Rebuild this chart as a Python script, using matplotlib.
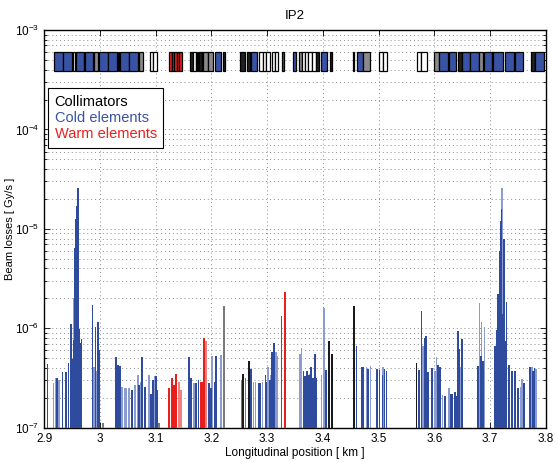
import matplotlib
matplotlib.use("Agg")
import matplotlib.pyplot as plt
from matplotlib.lines import Line2D
from matplotlib.ticker import LogLocator, FixedLocator, NullLocator

plt.rcParams['font.family'] = ['Liberation Sans', 'DejaVu Sans']

# loss bars: position [km], losses [Gy/s]
cold_dark_x = [2.906, 2.923, 2.933, 2.939, 2.944, 2.948, 2.951, 2.954, 2.955, 2.957, 2.9585, 2.9605,
               2.962, 2.963, 2.965, 2.967, 2.987, 2.992, 2.997, 2.999, 3.029, 3.0315, 3.033, 3.036,
               3.058, 3.0703, 3.0762, 3.081, 3.092, 3.096, 3.101, 3.103, 3.1595, 3.163, 3.172, 3.1773,
               3.196, 3.199, 3.2066, 3.208, 3.271, 3.285, 3.2885, 3.2975, 3.299, 3.305, 3.3093, 3.313,
               3.3656, 3.3685, 3.372, 3.375, 3.3792, 3.3823, 3.386, 3.389, 3.406, 3.4606, 3.470, 3.4725,
               3.481, 3.4976, 3.502, 3.5073, 3.511, 3.5144, 3.573, 3.5772, 3.5826, 3.585, 3.589, 3.596,
               3.6064, 3.610, 3.6195, 3.6297, 3.633, 3.637, 3.6393, 3.6424, 3.6454, 3.650, 3.6786, 3.6834,
               3.6876, 3.7086, 3.7116, 3.7145, 3.7175, 3.719, 3.7205, 3.7235, 3.7255, 3.7265, 3.7295, 3.734,
               3.7395, 3.745, 3.7503, 3.7606, 3.7713, 3.7772, 3.780]
cold_dark_y = [4.4e-7, 3.2e-7, 3.6e-7, 3.6e-7, 4.5e-7, 1.1e-6, 4.9e-7, 7.7e-7, 6.5e-6, 1.25e-5, 1.7e-5, 2.6e-5,
               4.3e-6, 9.9e-7, 7.1e-7, 7.8e-7, 1.72e-6, 1.04e-6, 1.16e-6, 6.1e-7, 5.2e-7, 3.6e-7, 4.3e-7, 4.2e-7,
               2.4e-7, 2.7e-7, 5.1e-7, 2.6e-7, 2.2e-7, 3.0e-7, 3.3e-7, 2.4e-7, 5.2e-7, 3.2e-7, 2.8e-7, 3.0e-7,
               2.8e-7, 2.5e-7, 2.9e-7, 5.3e-7, 3.9e-7, 2.8e-7, 2.8e-7, 3.4e-7, 2.9e-7, 3.0e-7, 5.8e-7, 7.1e-7,
               3.7e-7, 3.3e-7, 3.7e-7, 3.4e-7, 4.1e-7, 3.2e-7, 5.5e-7, 3.2e-7, 3.8e-7, 6.7e-7, 4.1e-7, 4.1e-7,
               3.9e-7, 3.9e-7, 3.8e-7, 3.4e-7, 3.9e-7, 3.7e-7, 3.8e-7, 1.5e-6, 8.0e-7, 8.4e-7, 3.6e-7, 4.0e-7,
               4.3e-7, 4.1e-7, 2.1e-7, 2.2e-7, 2.2e-7, 2.3e-7, 2.1e-7, 9.4e-7, 6.2e-7, 7.8e-7, 4.2e-7, 5.3e-7,
               4.7e-7, 6.6e-7, 9.6e-7, 2.2e-6, 6.0e-6, 1.2e-5, 1.6e-5, 1.4e-6, 8.0e-6, 7.4e-7, 1.86e-6, 4.3e-7,
               3.7e-7, 3.7e-7, 2.5e-7, 2.8e-7, 4.1e-7, 3.7e-7, 4.0e-7]

cold_light_x = [2.917, 2.921, 2.927, 2.9525, 2.9897, 2.9945, 3.040, 3.044, 3.047, 3.052, 3.0626, 3.068,
                3.0734, 3.0877, 3.099, 3.169, 3.2017, 3.2173, 3.276, 3.2795, 3.292, 3.302, 3.307, 3.316,
                3.319, 3.3596, 3.362, 3.377, 3.398, 3.402, 3.4785, 3.4858, 3.5083, 3.580, 3.601, 3.604,
                3.6148, 3.626, 3.6477, 3.681, 3.685, 3.690, 3.722, 3.7546, 3.7575, 3.775, 3.782]
cold_light_y = [2.8e-7, 3.2e-7, 3.0e-7, 2.0e-6, 4.1e-7, 3.7e-7, 2.6e-7, 2.5e-7, 2.5e-7, 2.5e-7, 2.7e-7, 3.4e-7,
                2.9e-7, 3.4e-7, 3.3e-7, 2.8e-7, 5.3e-7, 5.4e-7, 2.9e-7, 2.9e-7, 2.9e-7, 4.1e-7, 3.4e-7, 5.8e-7,
                5.3e-7, 5.5e-7, 6.4e-7, 3.5e-7, 3.4e-7, 1.6e-6, 4.1e-7, 4.2e-7, 4.1e-7, 6.6e-7, 3.7e-7, 5.1e-7,
                2.15e-7, 2.5e-7, 4.1e-7, 1.8e-6, 1.17e-6, 1.03e-6, 2.6e-5, 2.6e-7, 3.1e-7, 4.1e-7, 3.9e-7]

coll_x = [3.2573, 3.2675, 3.4115, 3.4163, 3.4558, 3.568]
coll_y = [3.5e-7, 4.7e-7, 7.4e-7, 5.5e-7, 1.69e-6, 4.5e-7]
coll_gray_x = [3.0063, 3.106, 3.2222, 3.2544, 3.2616]
coll_gray_y = [1.13e-7, 1.13e-7, 1.66e-6, 3.0e-7, 3.2e-7]

warm_x = [3.1247, 3.129, 3.133, 3.137, 3.181, 3.184, 3.1874, 3.3262, 3.3321]
warm_y = [2.5e-7, 3.2e-7, 2.7e-7, 3.5e-7, 2.9e-7, 2.9e-7, 8.0e-7, 1.34e-6, 2.3e-6]
warm_light_x = [3.1415, 3.146, 3.1905]
warm_light_y = [2.9e-7, 2.4e-7, 7.5e-7]

# machine layout strip (start km, end km, element kind)
elem_start = [2.9179, 2.9346, 2.9515, 2.9574, 2.9712, 2.9735, 2.9896, 2.9986, 3.0153, 3.0325, 3.0363, 3.0529,
              3.0698, 3.0900, 3.0960, 3.1246, 3.1290, 3.1335, 3.1380, 3.1425, 3.1617, 3.1677, 3.1720, 3.1760,
              3.1780, 3.1830, 3.1850, 3.1946, 3.2066, 3.2204, 3.2514, 3.2634, 3.2706, 3.2855, 3.2920, 3.2990,
              3.3082, 3.3140, 3.3262, 3.3470, 3.3577, 3.3620, 3.3680, 3.3740, 3.3800, 3.3870, 3.3961, 3.4127,
              3.4534, 3.4606, 3.4714, 3.5011, 3.5080, 3.5682, 3.5770, 3.5992, 3.6087, 3.6256, 3.6428, 3.6489,
              3.6650, 3.6804, 3.6888, 3.7037, 3.7055, 3.7265, 3.7444, 3.7743, 3.7815]
elem_end = [2.9335, 2.9502, 2.9556, 2.9712, 2.9722, 2.9884, 2.9973, 3.0142, 3.0314, 3.0345, 3.0518, 3.0691,
            3.0780, 3.0960, 3.1020, 3.1290, 3.1335, 3.1380, 3.1425, 3.1469, 3.1677, 3.1720, 3.1740, 3.1780,
            3.1830, 3.1850, 3.1946, 3.2035, 3.2173, 3.2245, 3.2604, 3.2693, 3.2813, 3.2920, 3.2990, 3.3052,
            3.3140, 3.3201, 3.3303, 3.3518, 3.3620, 3.3680, 3.3740, 3.3800, 3.3870, 3.3936, 3.4068, 3.4163,
            3.4563, 3.4714, 3.4845, 3.5080, 3.5144, 3.5770, 3.5861, 3.6087, 3.6238, 3.6399, 3.6489, 3.6637,
            3.6799, 3.6876, 3.7037, 3.7047, 3.7234, 3.7426, 3.7593, 3.7803, 3.7964]
elem_kind = ['cold', 'cold', 'white', 'cold', 'yellow', 'cold', 'gray', 'cold', 'cold', 'coll', 'cold', 'cold',
             'gray', 'white', 'white', 'warm', 'warm', 'warm', 'warm', 'warm', 'coll', 'white', 'yellow', 'yellow',
             'coll', 'yellow', 'gray', 'gray', 'cold', 'coll', 'coll', 'coll', 'cold', 'white', 'white', 'white',
             'white', 'white', 'cold', 'cold', 'gray', 'white', 'white', 'white', 'white', 'coll', 'cold', 'coll',
             'coll', 'cold', 'gray', 'white', 'white', 'white', 'white', 'gray', 'cold', 'cold', 'coll', 'cold',
             'cold', 'gray', 'cold', 'yellow', 'cold', 'cold', 'cold', 'coll', 'cold']
strip_low, strip_high = 3.9e-4, 6.0e-4

base = 1e-7
kind_color = {'cold': '#3953a4', 'coll': '#202020', 'white': 'white', 'gray': '#8a8a8a',
              'yellow': '#d8d020', 'warm': '#e8201c'}

fig = plt.figure(figsize=(5.58, 4.62), dpi=100)
ax = fig.add_axes([0.079, 0.074, 0.899, 0.861])
ax.set_yscale('log')

w = 0.003
ax.bar(cold_light_x, [v - base for v in cold_light_y], bottom=base, width=w, color='#8b9dd0', linewidth=0, zorder=2)
ax.bar(cold_dark_x, [v - base for v in cold_dark_y], bottom=base, width=w, color='#2f4b9e', linewidth=0, zorder=3)
ax.bar(coll_gray_x, [v - base for v in coll_gray_y], bottom=base, width=w, color='#7a7a7a', linewidth=0, zorder=3)
ax.bar(coll_x, [v - base for v in coll_y], bottom=base, width=w, color='#1a1a1a', linewidth=0, zorder=3)
ax.bar(warm_light_x, [v - base for v in warm_light_y], bottom=base, width=w, color='#f08080', linewidth=0, zorder=3)
ax.bar(warm_x, [v - base for v in warm_y], bottom=base, width=w, color='#e8201c', linewidth=0, zorder=4)

for s, e, k in zip(elem_start, elem_end, elem_kind):
    ax.bar(s, strip_high - strip_low, width=e - s, bottom=strip_low, align='edge',
           color=kind_color[k], edgecolor='black', linewidth=0.9, zorder=3)

ax.set_xlim(2.9, 3.8)
ax.set_ylim(1e-7, 1e-3)
xt = [2.9, 3.0, 3.1, 3.2, 3.3, 3.4, 3.5, 3.6, 3.7, 3.8]
ax.xaxis.set_major_locator(FixedLocator(xt))
ax.set_xticklabels(['2.9', '3', '3.1', '3.2', '3.3', '3.4', '3.5', '3.6', '3.7', '3.8'])
ax.xaxis.set_minor_locator(NullLocator())
ax.yaxis.set_major_locator(LogLocator(base=10, numticks=10))
ax.yaxis.set_minor_locator(LogLocator(base=10, subs=range(2, 10), numticks=20))

ax.tick_params(which='both', direction='in', top=True, right=True, labelsize=8.5, width=0.6)
ax.tick_params(which='major', length=4)
ax.tick_params(which='minor', length=2)
ax.grid(True, which='major', axis='x', linestyle=(0, (1, 3)), color='#8c8c8c', linewidth=0.7)
ax.grid(True, which='both', axis='y', linestyle=(0, (1, 3)), color='#8c8c8c', linewidth=0.7)
ax.set_axisbelow(True)
for sp in ax.spines.values():
    sp.set_linewidth(1.0)

ax.set_title('IP2', fontsize=9.5, pad=8)
ax.set_xlabel('Longitudinal position [ km ]', fontsize=8.5, labelpad=2)
ax.set_ylabel('Beam losses [ Gy/s ]', fontsize=8)
ax.yaxis.set_label_coords(-0.058, 0.5)

handles = [Line2D([], [], linestyle='none') for _ in range(3)]
leg = ax.legend(handles, ['Collimators', 'Cold elements', 'Warm elements'],
                loc='upper left', bbox_to_anchor=(0.008, 0.854), borderaxespad=0,
                handlelength=0, handletextpad=0, fancybox=False, framealpha=1,
                edgecolor='black', fontsize=10.5, labelspacing=0.15, borderpad=0.45)
leg.get_frame().set_linewidth(0.8)
for t, c in zip(leg.get_texts(), ['black', '#3953a4', '#e8201c']):
    t.set_color(c)

fig.savefig('out.png', dpi=100)
